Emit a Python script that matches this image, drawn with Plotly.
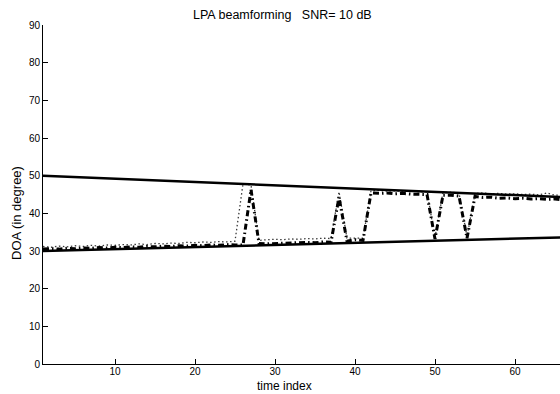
import plotly.graph_objects as go

# time index
t = list(range(1, 67))

# true DOA tracks (straight lines)
t_true = [1, 66]
upper_true = [50.0, 44.3]
lower_true = [30.0, 33.6]

# estimate 1 (dash-dot)
est_dashdot = [30.5, 30.6, 30.5, 30.7, 30.6, 30.8, 30.7, 30.9, 30.8, 31.0,
               30.9, 31.1, 31.0, 31.2, 31.1, 31.3, 31.2, 31.4, 31.3, 31.5,
               31.4, 31.6, 31.5, 31.7, 31.6, 31.6, 46.3, 32.0, 31.9, 32.0,
               32.1, 32.0, 32.2, 32.3, 32.2, 32.4, 32.3, 44.3, 32.6, 33.0,
               32.8, 45.4, 45.3, 45.4, 45.2, 45.3, 45.1, 45.0, 45.0, 33.2,
               44.8, 44.8, 44.6, 33.4, 44.5, 44.2, 44.3, 44.0, 44.1, 43.9,
               44.0, 43.8, 43.9, 43.7, 43.8, 43.6]

# estimate 2 (dotted)
est_dotted = [31.2, 31.0, 31.3, 31.1, 31.4, 31.2, 31.5, 31.3, 31.6, 31.5,
              31.7, 31.6, 31.9, 31.7, 32.0, 31.9, 32.1, 32.0, 32.3, 32.2,
              32.4, 32.3, 32.5, 32.4, 32.6, 47.8, 47.5, 32.8, 33.0, 33.1,
              33.0, 33.2, 33.1, 33.3, 33.2, 33.4, 33.3, 45.7, 33.4, 33.5,
              33.4, 46.0, 46.1, 45.9, 46.0, 45.8, 45.9, 45.7, 45.7, 33.6,
              45.5, 45.6, 45.4, 33.8, 45.3, 45.4, 45.2, 45.3, 45.1, 45.2,
              45.0, 45.1, 44.9, 45.4, 44.8, 44.9]

x_ticks = [10, 20, 30, 40, 50, 60]
y_ticks = [0, 10, 20, 30, 40, 50, 60, 70, 80, 90]

fig = go.Figure()
fig.add_trace(go.Scatter(x=t, y=est_dotted, mode="lines",
                         line=dict(color="#3a3a3a", width=1.3, dash="1.5px,2.5px")))
fig.add_trace(go.Scatter(x=t, y=est_dashdot, mode="lines",
                         line=dict(color="black", width=3, dash="6px,3px,1.5px,3px")))
fig.add_trace(go.Scatter(x=t_true, y=upper_true, mode="lines",
                         line=dict(color="black", width=2.5)))
fig.add_trace(go.Scatter(x=t_true, y=lower_true, mode="lines",
                         line=dict(color="black", width=2.5)))

font = dict(family="Liberation Sans, Arial, Helvetica, sans-serif", color="black")

fig.update_layout(
    width=560, height=394,
    margin=dict(l=43, r=0, t=25, b=30),
    paper_bgcolor="white", plot_bgcolor="white",
    showlegend=False,
    font=dict(size=10, **font),
    xaxis=dict(range=[1, 1 + 517 / 8], tickvals=x_ticks, ticks="inside", ticklen=5,
               tickcolor="black", showline=True, linecolor="black", linewidth=1,
               showgrid=False, zeroline=False, ticklabelstandoff=-2,
               tickfont=dict(size=10, **font)),
    yaxis=dict(range=[0, 90], tickvals=y_ticks, ticks="inside", ticklen=5,
               tickcolor="black", showline=True, linecolor="black", linewidth=1,
               showgrid=False, zeroline=False, tickfont=dict(size=10, **font)),
    annotations=[
        dict(text="LPA beamforming   SNR= 10 dB", xref="paper", yref="paper",
             x=(282 - 43) / 517, y=(364 - 15) / 339, xanchor="center", yanchor="middle",
             showarrow=False, font=dict(size=12.5, **font)),
        dict(text="time index", xref="paper", yref="paper",
             x=(284 - 43) / 517, y=(364 - 385.5) / 339, xanchor="center", yanchor="middle",
             showarrow=False, font=dict(size=12, **font)),
        dict(text="DOA (in degree)", xref="paper", yref="paper", textangle=-90,
             x=(16 - 43) / 517, y=(364 - 213) / 339, xanchor="center", yanchor="middle",
             showarrow=False, font=dict(size=13, **font)),
    ],
)

fig.write_html("out.html")
